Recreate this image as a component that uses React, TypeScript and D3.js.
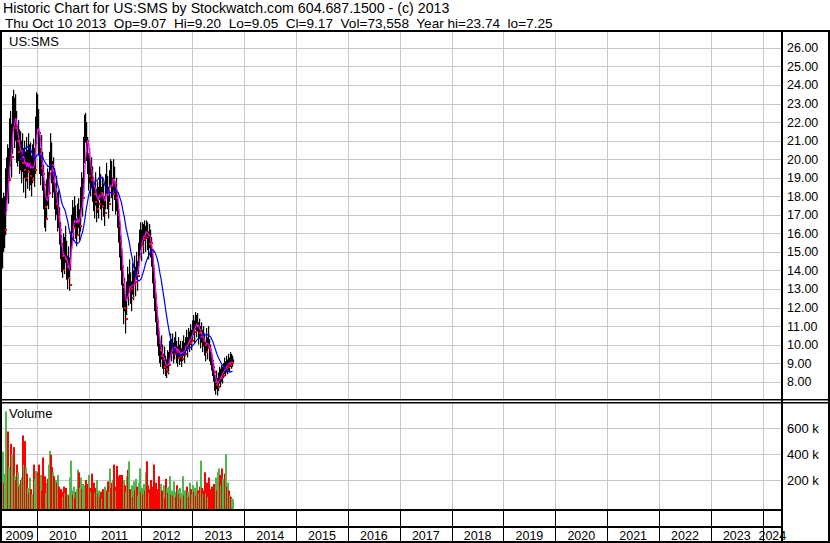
import React, { useEffect, useRef } from "react";
import * as d3 from "d3";

const W = 830;
const H = 543;

// weekly bars, first week starts Apr 30 2009, last is Oct 10 2013
const firstWeek = new Date(2009, 3, 30);

const closes = [
  15.6, 16.9, 16.2, 17.8, 18.6, 19.4, 18.9, 20.3, 21.2, 20.1,
  22.4, 23.2, 21.7, 22.8, 21.0, 20.4, 21.3, 20.0, 20.7, 19.8,
  20.5, 19.4, 20.2, 19.0, 20.0, 19.3, 20.6, 19.1, 19.8, 18.9,
  19.6, 20.2, 19.4, 21.0, 22.6, 23.1, 21.4, 20.3, 19.5, 20.4,
  19.2, 18.6, 17.4, 16.8, 17.9, 18.6, 18.2, 19.3, 20.6, 19.7,
  18.8, 19.2, 18.4, 17.6, 18.1, 16.9, 17.3, 16.2, 15.4, 14.8,
  14.0, 15.2, 14.6, 15.5, 14.2, 13.6, 14.4, 13.2, 15.0, 16.2,
  16.9, 16.3, 17.4, 16.6, 15.9, 16.8, 17.2, 16.4, 17.0, 17.6,
  18.4, 17.9, 19.6, 21.8, 22.1, 21.0, 20.3, 19.1, 19.8, 18.9,
  19.4, 18.6, 18.1, 17.7, 18.5, 17.3, 18.0, 17.6, 18.8, 18.2,
  17.5, 18.3, 17.8, 17.1, 18.4, 19.0, 18.2, 17.6, 18.6, 19.5,
  18.9, 18.1, 19.4, 18.7, 17.9, 18.3, 17.0, 16.4, 15.6, 14.9,
  14.2, 13.1, 12.0, 12.8, 11.4, 12.6, 13.4, 12.9, 13.8, 13.0,
  12.5, 13.6, 13.2, 14.0, 13.4, 14.3, 13.7, 14.6, 15.4, 15.9,
  15.3, 16.1, 15.7, 16.3, 15.8, 16.5, 15.9, 15.4, 16.0, 15.5,
  15.0, 14.1, 13.4, 12.6, 12.0, 11.3, 10.6, 10.1, 9.7, 9.4,
  9.9, 9.2, 8.8, 9.3, 8.7, 8.5, 9.1, 8.9, 9.6, 10.0,
  9.7, 10.1, 9.5, 9.8, 10.2, 9.6, 9.3, 9.9, 9.4, 9.7,
  9.2, 9.6, 10.0, 9.5, 9.9, 10.3, 9.8, 10.4, 10.1, 10.6,
  10.2, 10.8, 11.1, 10.7, 11.4, 11.0, 11.3, 10.6, 10.9, 10.4,
  10.7, 10.2, 10.5, 10.0, 9.6, 10.3, 9.8, 10.6, 9.7, 9.4,
  9.1, 8.8, 8.5, 8.0, 7.8, 8.1, 7.7, 8.0, 8.4, 8.2,
  8.5, 8.3, 8.6, 8.9, 8.7, 9.0, 8.8, 9.1, 8.9, 9.2,
  9.0, 9.1, 9.17,
];

const highs = [
  17.9, 18.2, 18.0, 19.5, 20.1, 20.8, 20.6, 22.2, 22.6, 21.9,
  23.4, 23.74, 23.3, 23.5, 22.6, 21.8, 22.1, 21.6, 21.5, 21.0,
  21.4, 20.6, 21.0, 20.4, 21.2, 20.5, 21.4, 20.8, 20.9, 20.2,
  20.8, 21.1, 20.6, 22.3, 23.6, 23.5, 22.7, 21.5, 20.6, 21.3,
  20.4, 19.7, 18.8, 18.1, 18.9, 19.5, 19.3, 20.4, 21.4, 20.9,
  19.9, 20.1, 19.5, 18.7, 19.1, 18.2, 18.3, 17.4, 16.6, 15.9,
  15.1, 16.0, 15.8, 16.4, 15.6, 14.8, 15.3, 14.7, 16.1, 17.0,
  17.8, 17.4, 18.0, 17.5, 16.8, 17.6, 17.9, 17.3, 17.8, 18.5,
  19.3, 19.0, 21.2, 22.4, 22.5, 22.0, 21.2, 20.3, 20.6, 19.8,
  20.1, 19.6, 19.0, 18.6, 19.3, 18.4, 18.8, 18.5, 19.6, 19.2,
  18.5, 19.0, 18.7, 18.0, 19.2, 19.8, 19.1, 18.5, 19.4, 20.0,
  19.9, 19.0, 20.0, 19.6, 18.8, 19.0, 18.2, 17.3, 16.7, 15.9,
  15.2, 14.3, 13.3, 13.6, 12.7, 13.4, 14.2, 13.8, 14.6, 13.9,
  13.4, 14.4, 14.0, 14.8, 14.2, 15.0, 14.5, 15.5, 16.2, 16.6,
  16.2, 16.6, 16.5, 16.7, 16.4, 16.7, 16.6, 16.1, 16.5, 16.2,
  15.8, 15.1, 14.3, 13.6, 12.8, 12.2, 11.5, 10.9, 10.4, 10.1,
  10.5, 10.0, 9.5, 9.9, 9.4, 9.2, 9.7, 9.6, 10.2, 10.6,
  10.3, 10.6, 10.1, 10.4, 10.7, 10.2, 9.9, 10.4, 10.0, 10.2,
  9.8, 10.2, 10.5, 10.1, 10.4, 10.8, 10.4, 10.9, 10.7, 11.1,
  10.8, 11.3, 11.6, 11.3, 11.75, 11.6, 11.7, 11.2, 11.4, 11.0,
  11.2, 10.8, 11.0, 10.6, 10.2, 10.9, 10.4, 11.0, 10.3, 10.0,
  9.6, 9.3, 9.0, 8.6, 8.3, 8.6, 8.2, 8.5, 8.8, 8.7,
  8.9, 8.8, 9.0, 9.3, 9.1, 9.4, 9.2, 9.5, 9.3, 9.6,
  9.5, 9.4, 9.2,
];

const lows = [
  14.1, 15.0, 15.2, 15.9, 17.2, 17.9, 17.6, 18.8, 19.6, 19.0,
  20.3, 21.6, 20.6, 21.0, 19.8, 19.6, 19.9, 19.2, 19.4, 18.7,
  19.3, 18.2, 19.0, 17.9, 18.8, 18.4, 19.4, 18.3, 18.6, 18.0,
  18.7, 19.0, 18.5, 19.2, 20.8, 21.6, 20.2, 19.2, 18.6, 19.1,
  18.3, 17.3, 16.3, 16.1, 16.8, 17.5, 17.3, 18.1, 19.4, 18.7,
  17.9, 18.2, 17.3, 16.7, 17.0, 16.1, 16.3, 15.4, 14.6, 13.9,
  13.6, 14.0, 13.8, 14.4, 13.5, 13.0, 13.6, 12.9, 14.0, 15.1,
  16.0, 15.6, 16.3, 15.7, 15.3, 15.9, 16.3, 15.6, 16.1, 16.6,
  17.3, 16.9, 18.1, 19.8, 20.9, 19.9, 19.2, 18.3, 18.7, 18.0,
  18.5, 17.7, 17.2, 16.8, 17.5, 16.6, 17.1, 16.8, 17.8, 17.3,
  16.7, 17.4, 16.9, 16.4, 17.3, 18.1, 17.3, 16.8, 17.7, 18.5,
  17.9, 17.2, 18.3, 17.8, 17.0, 17.2, 16.3, 15.5, 14.7, 14.0,
  13.2, 12.0, 11.1, 11.8, 10.6, 11.6, 12.5, 12.1, 12.9, 12.2,
  11.8, 12.7, 12.4, 13.2, 12.6, 13.5, 12.9, 13.8, 14.6, 15.1,
  14.5, 15.3, 14.9, 15.6, 15.0, 15.7, 15.1, 14.6, 15.2, 14.7,
  14.2, 13.3, 12.5, 11.8, 11.2, 10.5, 9.9, 9.4, 9.0, 8.8,
  9.2, 8.7, 8.4, 8.7, 8.3, 8.2, 8.6, 8.4, 9.0, 9.4,
  9.1, 9.5, 9.0, 9.2, 9.6, 9.0, 8.8, 9.3, 8.9, 9.1,
  8.8, 9.1, 9.4, 9.0, 9.4, 9.7, 9.3, 9.8, 9.6, 10.0,
  9.7, 10.2, 10.5, 10.1, 10.8, 10.4, 10.7, 10.0, 10.3, 9.8,
  10.1, 9.6, 9.9, 9.4, 9.1, 9.6, 9.2, 9.9, 9.1, 8.9,
  8.6, 8.3, 8.0, 7.5, 7.3, 7.6, 7.25, 7.5, 7.9, 7.7,
  8.0, 7.9, 8.2, 8.4, 8.3, 8.5, 8.4, 8.6, 8.5, 8.8,
  8.7, 8.8, 9.05,
];

// weekly volume, thousands of shares
const volumes = [
  280, 420, 180, 250, 730, 320, 575, 300, 250, 480,
  400, 330, 455, 230, 200, 320, 260, 150, 170, 200,
  220, 545, 320, 500, 300, 250, 140, 100, 220, 130,
  90, 60, 320, 210, 270, 180, 260, 320, 110, 240,
  120, 375, 220, 230, 100, 180, 210, 320, 425, 395,
  300, 260, 230, 120, 200, 180, 240, 150, 90, 130,
  110, 70, 150, 100, 140, 60, 90, 80, 220, 350,
  120, 90, 150, 60, 110, 130, 280, 260, 100, 140,
  220, 130, 170, 90, 160, 200, 170, 120, 240, 140,
  110, 250, 160, 180, 100, 140, 200, 90, 120, 70,
  110, 60, 130, 90, 150, 80, 120, 190, 110, 290,
  140, 180, 200, 320, 150, 120, 310, 180, 230, 240,
  120, 240, 90, 200, 160, 110, 230, 280, 345, 130,
  100, 160, 70, 190, 120, 210, 150, 80, 180, 290,
  110, 140, 90, 170, 120, 260, 345, 160, 100, 130,
  200, 90, 150, 320, 110, 180, 80, 130, 230, 100,
  170, 120, 90, 160, 60, 210, 140, 100, 150, 230,
  90, 120, 80, 190, 110, 70, 160, 130, 90, 140,
  60, 100, 230, 80, 120, 90, 150, 110, 70, 180,
  130, 90, 160, 110, 140, 80, 190, 120, 100, 150,
  350, 140, 90, 120, 260, 100, 180, 70, 220, 130,
  90, 150, 110, 170, 80, 220, 120, 260, 290, 240,
  160, 290, 210, 180, 250, 400, 150, 180, 120, 80,
  70, 60, 50,
];

const yearLabels = [2009, 2010, 2011, 2012, 2013, 2014, 2015, 2016, 2017, 2018, 2019, 2020, 2021, 2022, 2023, 2024];
const priceTicks = [8, 9, 10, 11, 12, 13, 14, 15, 16, 17, 18, 19, 20, 21, 22, 23, 24, 25, 26];
const volumeTicks = [200, 400, 600];

const headerLines = [
  "Historic Chart for US:SMS by Stockwatch.com 604.687.1500 - (c) 2013",
  "Thu Oct 10 2013  Op=9.07  Hi=9.20  Lo=9.05  Cl=9.17  Vol=73,558  Year hi=23.74  lo=7.25",
];

function sma(values: number[], n: number) {
  const out: { i: number; v: number }[] = [];
  for (let i = n - 1; i < values.length; i++) {
    out.push({ i, v: d3.mean(values.slice(i - n + 1, i + 1)) as number });
  }
  return out;
}

export default function App() {
  const ref = useRef<SVGSVGElement>(null);

  useEffect(() => {
    const svg = d3.select(ref.current);
    svg.selectAll("*").remove();

    const font = "'Liberation Sans', Arial, sans-serif";
    const plotL = 2, plotR = 782, panelR = 829;
    const priceTop = 32, priceBot = 399;
    const volTop = 403, volBot = 509;

    const weeks = closes.map((_, i) => d3.timeWeek.offset(firstWeek, i));

    const x = d3.scaleTime()
      .domain([new Date(2009, 3, 30), new Date(2024, 4, 16)])
      .range([plotL, plotR]);
    const y = d3.scaleLinear().domain([8, 26]).range([381.7, 47.9]);
    const yv = d3.scaleLinear().domain([0, 600]).range([506, 428.3]);

    svg.append("rect").attr("width", W).attr("height", H).attr("fill", "#fff");

    const defs = svg.append("defs");
    defs.append("clipPath").attr("id", "priceClip")
      .append("rect").attr("x", plotL).attr("y", priceTop)
      .attr("width", plotR - plotL).attr("height", priceBot - priceTop);
    defs.append("clipPath").attr("id", "volClip")
      .append("rect").attr("x", plotL).attr("y", volTop)
      .attr("width", plotR - plotL).attr("height", volBot - volTop);

    // Grid
    const yearStarts = yearLabels.slice(1).map(yr => new Date(yr, 0, 1));
    const grid = svg.append("g").attr("stroke", "#c8c8c8").attr("stroke-width", 1);
    grid.selectAll("line.py")
      .data(priceTicks)
      .join("line")
      .attr("x1", plotL).attr("x2", plotR)
      .attr("y1", d => Math.round(y(d)) + 0.5)
      .attr("y2", d => Math.round(y(d)) + 0.5);
    grid.selectAll("line.vy")
      .data(volumeTicks)
      .join("line")
      .attr("x1", plotL).attr("x2", plotR)
      .attr("y1", d => Math.round(yv(d)) + 0.5)
      .attr("y2", d => Math.round(yv(d)) + 0.5);
    yearStarts.forEach(d => {
      const xx = Math.round(x(d)) + 0.5;
      grid.append("line").attr("x1", xx).attr("x2", xx).attr("y1", priceTop).attr("y2", priceBot);
      grid.append("line").attr("x1", xx).attr("x2", xx).attr("y1", volTop).attr("y2", volBot);
    });

    // Price bars
    const price = svg.append("g").attr("clip-path", "url(#priceClip)");
    price.selectAll("rect.bar")
      .data(closes)
      .join("rect")
      .attr("x", (_, i) => Math.round(x(weeks[i])))
      .attr("width", 1.2)
      .attr("y", (_, i) => y(highs[i]))
      .attr("height", (_, i) => Math.max(1, y(lows[i]) - y(highs[i])))
      .attr("fill", "#000");
    price.selectAll("rect.cl")
      .data(closes.map((c, i) => ({ c, i })).filter(d => d.i > 0 && d.c < closes[d.i - 1]))
      .join("rect")
      .attr("x", d => Math.round(x(weeks[d.i])) + 1)
      .attr("y", d => Math.round(y(d.c)) - 1)
      .attr("width", 2)
      .attr("height", 2)
      .attr("fill", "#ff0000");

    const line = d3.line<{ i: number; v: number }>()
      .x(d => x(weeks[d.i]))
      .y(d => y(d.v));
    price.append("path")
      .datum(sma(closes, 5))
      .attr("fill", "none").attr("stroke", "#ff00ff").attr("stroke-width", 1.2)
      .attr("d", line);
    price.append("path")
      .datum(sma(closes, 20))
      .attr("fill", "none").attr("stroke", "#0000ff").attr("stroke-width", 1.2)
      .attr("d", line);

    // Volume
    svg.append("g").attr("clip-path", "url(#volClip)")
      .selectAll("rect")
      .data(volumes)
      .join("rect")
      .attr("x", (_, i) => Math.round(x(weeks[i])) - 1)
      .attr("width", 2)
      .attr("y", d => yv(d))
      .attr("height", d => volBot - yv(d))
      .attr("fill", (_, i) => (i === 0 || closes[i] >= closes[i - 1]) ? "#4db84d" : "#ff0000");

    // Frame
    const frame = svg.append("g").attr("fill", "#000");
    frame.append("rect").attr("x", 0).attr("y", 30).attr("width", W).attr("height", 2);
    frame.append("rect").attr("x", 0).attr("y", 32).attr("width", 2).attr("height", H - 32);
    frame.append("rect").attr("x", plotR - 1).attr("y", 32).attr("width", 2).attr("height", H - 32);
    frame.append("rect").attr("x", panelR - 1).attr("y", 32).attr("width", 2).attr("height", H - 32);
    frame.append("rect").attr("x", 0).attr("y", 399).attr("width", W).attr("height", 1.5);
    frame.append("rect").attr("x", 0).attr("y", 402).attr("width", W).attr("height", 1.5);
    frame.append("rect").attr("x", 0).attr("y", volBot).attr("width", plotR).attr("height", 2);
    frame.append("rect").attr("x", 0).attr("y", 526).attr("width", plotR).attr("height", 2);
    frame.append("rect").attr("x", 0).attr("y", 541).attr("width", W).attr("height", 2);
    yearStarts.forEach(d => {
      frame.append("rect").attr("x", Math.round(x(d))).attr("y", volBot).attr("width", 1).attr("height", 541 - volBot);
    });

    // Year labels, centred in each year's cell
    const txt = svg.append("g").attr("font-family", font).attr("fill", "#000");
    txt.selectAll("text.yr")
      .data(yearLabels)
      .join("text")
      .attr("x", yr => {
        const a = Math.max(plotL, x(new Date(yr, 0, 1)));
        const b = Math.min(plotR, x(new Date(yr + 1, 0, 1)));
        return (a + b) / 2;
      })
      .attr("y", 540)
      .attr("text-anchor", "middle")
      .attr("font-size", 12.5)
      .text(d => d);

    // Right axis labels
    txt.selectAll("text.p")
      .data(priceTicks)
      .join("text")
      .attr("x", 787)
      .attr("y", d => y(d) + 4.5)
      .attr("font-size", 12.5)
      .text(d => d.toFixed(2));
    txt.selectAll("text.v")
      .data(volumeTicks)
      .join("text")
      .attr("x", 787)
      .attr("y", d => yv(d) + 4.5)
      .attr("font-size", 13)
      .text(d => d + " k");

    // Header and panel titles
    txt.append("text")
      .attr("x", 3).attr("y", 12.5)
      .attr("font-size", 14.2)
      .text(headerLines[0]);
    txt.append("text")
      .attr("x", 5).attr("y", 27.5)
      .attr("font-size", 13.6)
      .style("white-space", "pre")
      .text(headerLines[1]);
    txt.append("text").attr("x", 9).attr("y", 46).attr("font-size", 13).text("US:SMS");
    txt.append("text").attr("x", 9).attr("y", 418).attr("font-size", 13).text("Volume");
  }, []);

  return (
    <svg ref={ref} width={W} height={H} style={{ position: "absolute", left: 0, top: 0 }} />
  );
}
